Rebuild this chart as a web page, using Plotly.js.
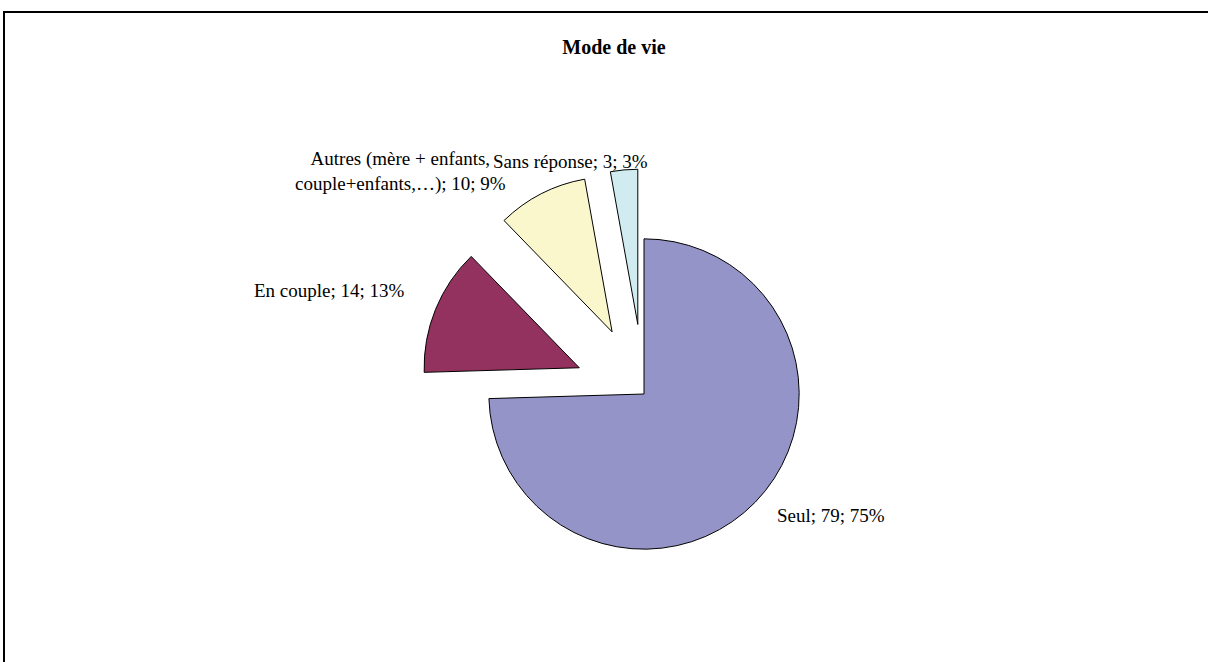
<!DOCTYPE html>
<html>
<head>
<meta charset="utf-8">
<script src="https://cdn.plot.ly/plotly-3.0.1.min.js"></script>
<style>html,body{margin:0;padding:0;background:#fff;}#chart{width:1208px;height:662px;}</style>
</head>
<body>
<div id="chart"></div>
<script>
const categories = ["Seul", "En couple", "Autres (mère + enfants,<br>couple+enfants,…)", "Sans réponse"];
const values = [79, 14, 10, 3];
const colors = ["#9494C8", "#93325E", "#FAF7CC", "#D0ECF0"];
const pulls = [0, 0.45, 0.45, 0.45];

const W = 1208, H = 662;
const cx = 644, cy = 394, size = 450;
const FONT = "Liberation Serif, Times New Roman, serif";

// label placement (pixels) for each slice label
const labelPlace = [
  {x: 775, y: 515, xanchor: "left", align: "left"},
  {x: 407, y: 290, xanchor: "right", align: "right"},
  {x: 400, y: 171, xanchor: "center", align: "center"},
  {x: 491, y: 161, xanchor: "left", align: "left"}
];

const total = values.reduce((a, b) => a + b, 0);
const annotations = categories.map((c, i) => ({
  text: c + "; " + values[i] + "; " + Math.round(values[i] / total * 100) + "%",
  xref: "paper", yref: "paper",
  x: labelPlace[i].x / W, y: 1 - labelPlace[i].y / H,
  xanchor: labelPlace[i].xanchor, yanchor: "middle", align: labelPlace[i].align,
  showarrow: false,
  font: {family: FONT, size: 19, color: "#000"}
}));

const trace = {
  type: "pie",
  labels: categories,
  values: values,
  sort: false,
  direction: "clockwise",
  rotation: 0,
  pull: pulls,
  marker: {colors: colors, line: {color: "#000", width: 1}},
  textinfo: "none",
  hoverinfo: "none",
  domain: {
    x: [(cx - size / 2) / W, (cx + size / 2) / W],
    y: [1 - (cy + size / 2) / H, 1 - (cy - size / 2) / H]
  },
  automargin: false,
  showlegend: false
};

const layout = {
  width: W, height: H,
  margin: {l: 0, r: 0, t: 0, b: 0},
  paper_bgcolor: "#fff",
  title: {
    text: "<b>Mode de vie</b>",
    font: {family: FONT, size: 20, color: "#000"},
    x: 614 / W, xanchor: "center", y: 1 - 47 / H, yanchor: "middle"
  },
  showlegend: false,
  annotations: annotations,
  shapes: [{
    type: "rect", xref: "paper", yref: "paper",
    x0: 4 / W, x1: 1.01, y0: -0.01, y1: 1 - 12 / H,
    line: {color: "#000", width: 2}
  }]
};

Plotly.newPlot("chart", [trace], layout, {displayModeBar: false, staticPlot: true});
</script>
</body>
</html>
